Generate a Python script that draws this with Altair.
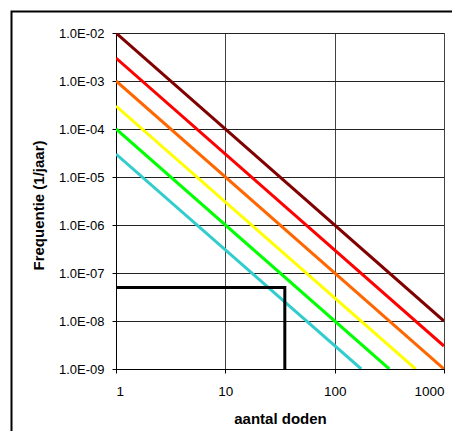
import altair as alt
import pandas as pd

# Risk lines (log-log): start and end points
series = ["s1", "s2", "s3", "s4", "s5", "s6"]
colors = ["#800000", "#FF0000", "#FF6600", "#FFFF00", "#00FF00", "#33CCCC"]
x_start = [1, 1, 1, 1, 1, 1]
y_start = [1e-2, 3e-3, 1e-3, 3e-4, 1e-4, 3e-5]
x_end = [1000, 1000, 1000, 550, 316, 175]
y_end = [1e-8, 3e-9, 1e-9, 1e-9, 1e-9, 1e-9]

# Black box (norm)
box_x = [1, 35, 35]
box_y = [5e-8, 5e-8, 1e-9]

x_ticks = [1, 10, 100, 1000]
y_ticks = [1e-9, 1e-8, 1e-7, 1e-6, 1e-5, 1e-4, 1e-3, 1e-2]

rows = []
for i, s in enumerate(series):
    rows.append({"s": s, "o": 0, "x": x_start[i], "y": y_start[i]})
    rows.append({"s": s, "o": 1, "x": x_end[i], "y": y_end[i]})
lines_df = pd.DataFrame(rows)
box_df = pd.DataFrame({"o": list(range(len(box_x))), "x": box_x, "y": box_y})

FONT = "Liberation Sans"

xscale = alt.Scale(type="log", domain=[1, 1000], nice=False)
yscale = alt.Scale(type="log", domain=[1e-9, 1e-2], nice=False)

xaxis = alt.Axis(
    title="aantal doden", values=x_ticks, format="d",
    grid=True, gridColor="#444444", gridWidth=1,
    tickSize=4, tickColor="#000000", domainColor="#000000",
    labelFont=FONT, labelFontSize=13.5, labelColor="#000000", labelPadding=11,
    titleFont=FONT, titleFontSize=15, titleFontWeight="bold", titleColor="#000000",
    titleX=164, titleY=42, titleBaseline="top", titleAnchor="middle", titleAlign="center",
)
yaxis = alt.Axis(
    title="Frequentie (1/jaar)", values=y_ticks,
    labelExpr="'1.0E-' + (abs(round(log(datum.value)/LN10)) < 10 ? '0' : '') + abs(round(log(datum.value)/LN10))",
    grid=True, gridColor="#222222", gridWidth=1,
    tickSize=4, tickColor="#000000", domainColor="#000000",
    labelFont=FONT, labelFontSize=13, labelColor="#000000", labelPadding=8,
    titleFont=FONT, titleFontSize=15, titleFontWeight="bold", titleColor="#000000",
    titleX=-78, titleY=172, titleAngle=270, titleBaseline="middle", titleAlign="center",
)

lines = alt.Chart(lines_df).mark_line(strokeWidth=3, clip=True).encode(
    x=alt.X("x:Q", scale=xscale, axis=xaxis),
    y=alt.Y("y:Q", scale=yscale, axis=yaxis),
    color=alt.Color("s:N", scale=alt.Scale(domain=series, range=colors), legend=None),
    order="o:Q",
)

box = alt.Chart(box_df).mark_line(strokeWidth=3, color="#000000", clip=True).encode(
    x=alt.X("x:Q", scale=xscale),
    y=alt.Y("y:Q", scale=yscale),
    order="o:Q",
)

frame = alt.Chart(pd.DataFrame({"a": [0]})).mark_rect(
    filled=False, stroke="#000000", strokeWidth=2
).encode(
    x=alt.value(-104.5), x2=alt.value(700),
    y=alt.value(-21.5), y2=alt.value(700),
)

chart = alt.layer(lines, box, frame).properties(
    width=328, height=336,
    autosize=alt.AutoSizeParams(type="none"),
    padding={"left": 108, "top": 25, "right": 8, "bottom": 62},
    background="#FFFFFF",
).configure_view(stroke="#808080", strokeWidth=1)

chart.save("out.html", embed_options={"renderer": "svg", "actions": False})
